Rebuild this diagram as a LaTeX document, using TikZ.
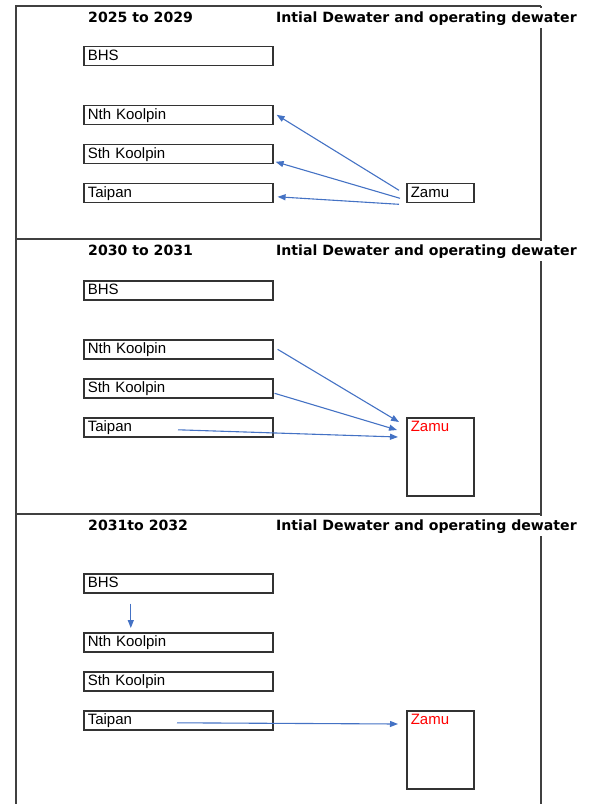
\documentclass[tikz,border=0pt]{standalone}
\usepackage{fontspec}
\setmainfont{Liberation Sans}
\newfontfamily\titlefont{DejaVu Sans}
\usetikzlibrary{arrows.meta}
\definecolor{flowblue}{RGB}{68,114,196}
\definecolor{framegray}{RGB}{64,64,64}
\begin{document}
\begin{tikzpicture}[x=1pt, y=-1pt,
		site/.style={draw=black!80, line width=1.6pt, anchor=north west, text width=181pt, inner xsep=4pt, inner ysep=2pt, text height=12pt, text depth=3pt, align=left, font=\fontsize{15}{18}\selectfont},
		tallsite/.style={site, text width=59pt, text depth=62pt, text=red},
		heading/.style={anchor=base west, fill=white, inner xsep=1pt, inner ysep=3pt, font=\titlefont\bfseries\fontsize{14.1}{17}\selectfont},
		flow/.style={draw=flowblue, line width=1.1pt, -{Triangle[length=8pt,width=6pt]}}]
	\useasboundingbox (0,0) rectangle (600,804);
	
	% Frame
	\draw[framegray, line width=1.4pt] (541,6) -- (16,6) -- (16,804);
	\draw[framegray, line width=1.4pt] (541,6) -- (541,804);
	\draw[framegray, line width=1.4pt] (16,239) -- (541,239);
	\draw[framegray, line width=1.4pt] (16,514) -- (541,514);
	
	% Panels
	\foreach \p/\f/\b/\yr in {1/6/45.5/2025 to 2029, 2/239/280/2030 to 2031, 3/514/573/2031to 2032} {
		\node[heading] (year\p) at (87, \f+16) {\yr};
		\node[heading] (title\p) at (275, \f+16) {Intial Dewater and operating dewater};
		\node[site] (bhs\p) at (83, \b) {BHS};
		\node[site] (nth\p) at (83, \b+59) {Nth Koolpin};
		\node[site] (sth\p) at (83, \b+98) {Sth Koolpin};
		\node[site] (taipan\p) at (83, \b+137) {Taipan};
	}
	\node[site, text width=59pt] (zamu1) at (406, 182.5) {Zamu};
	\node[tallsite] (zamu2) at (406, 417) {Zamu};
	\node[tallsite] (zamu3) at (406, 710) {Zamu};
	
	% 2025 to 2029
	\draw[flow] ([shift={(-7,-2.5)}]zamu1.west) -- ([xshift=3pt]nth1.east);
	\draw[flow] ([shift={(-6,5.5)}]zamu1.west) -- ([shift={(2,8)}]sth1.east);
	\draw[flow] ([shift={(-7,11.5)}]zamu1.west) -- ([shift={(4,4)}]taipan1.east);
	
	% 2030 to 2031
	\draw[flow] ([xshift=4pt]nth2.east) -- ([shift={(-7,5)}]zamu2.north west);
	\draw[flow] ([shift={(1,5)}]sth2.east) -- ([shift={(-9,13)}]zamu2.north west);
	\draw[flow] ([shift={(95,2.5)}]taipan2.west) -- ([shift={(-8,20)}]zamu2.north west);
	
	% 2031 to 2032
	\draw[flow] ([shift={(-47.5,10)}]bhs3.south) -- ([shift={(-47.5,-4)}]nth3.north);
	\draw[flow] ([shift={(94,2.5)}]taipan3.west) -- ([shift={(-8,14)}]zamu3.north west);
\end{tikzpicture}
\end{document}
